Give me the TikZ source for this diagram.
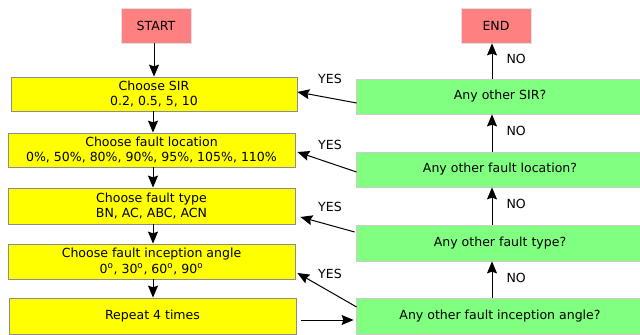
\documentclass[tikz,border=0pt]{standalone}
\usepackage{fontspec}
\setmainfont{DejaVu Sans}
\usetikzlibrary{calc,arrows.meta}
\definecolor{yel}{HTML}{FFFF00}
\definecolor{grn}{HTML}{80FF80}
\definecolor{rd}{HTML}{FF8080}
\tikzset{
  base/.style={inner sep=0pt, align=center, font=\fontsize{9.4}{11.4}\selectfont},
  yellowbox/.style={base, fill=yel, draw=black!45, line width=0.6pt},
  greenbox/.style={base, fill=grn, draw=black!20, line width=0.6pt, minimum width=288*0.75pt, minimum height=35*0.75pt},
  termbox/.style={base, fill=rd, draw=black!12, line width=0.6pt, minimum width=70*0.75pt, minimum height=35*0.75pt},
  arr/.style={line width=0.75pt, -{Stealth[length=9pt,width=7.5pt,inset=1.3pt]}},
  lbl/.style={font=\fontsize{9.4}{11.4}\selectfont, inner sep=0pt}
}
\begin{document}
\begin{tikzpicture}[x=0.75pt,y=-0.75pt]
\useasboundingbox (0,0) rectangle (640,335);
\clip (0,0) rectangle (640,335);
% terminals
\node[termbox] (start) at (156,25.5) {START};
\node[termbox] (end) at (496,25.5) {END};
% yellow column
\node[yellowbox, minimum width=286*0.75pt, minimum height=34*0.75pt] (sir) at (154,94) {Choose SIR\\0.2, 0.5, 5, 10};
\node[yellowbox, minimum width=287*0.75pt, minimum height=34*0.75pt] (loc) at (151.5,150) {Choose fault location\\0\%, 50\%, 80\%, 90\%, 95\%, 105\%, 110\%};
\node[yellowbox, minimum width=287*0.75pt, minimum height=36*0.75pt] (typ) at (151.5,206) {Choose fault type\\BN, AC, ABC, ACN};
\node[yellowbox, minimum width=287*0.75pt, minimum height=35*0.75pt] (ang) at (151.5,261.5) {Choose fault inception angle\\0$^{\mathrm{o}}$, 30$^{\mathrm{o}}$, 60$^{\mathrm{o}}$, 90$^{\mathrm{o}}$};
\node[yellowbox, minimum width=287*0.75pt, minimum height=36*0.75pt] (rep) at (152.5,316) {Repeat 4 times};
% green column
\node[greenbox] (gsir) at (500,96.5) {Any other SIR?};
\node[greenbox] (gloc) at (500,169.5) {Any other fault location?};
\node[greenbox, minimum height=36*0.75pt] (gtyp) at (500,243) {Any other fault type?};
\node[greenbox, minimum height=36*0.75pt] (gang) at (500,316) {Any other fault inception angle?};
% helper coordinates
\coordinate (a0) at ($(start.south)+(-2,0)$);
\coordinate (a1) at ($(sir.south)+(-1,0)$);
\coordinate (a2) at ($(loc.south)+(1.5,0)$);
\coordinate (a3) at ($(typ.south)+(1.5,0)$);
\coordinate (a4) at ($(ang.south)+(1.5,0)$);
\coordinate (b1) at ($(gang.north)+(-8,0)$);
\coordinate (b2) at ($(gtyp.north)+(-8,0)$);
\coordinate (b3) at ($(gloc.north)+(-8,0)$);
\coordinate (b4) at ($(gsir.north)+(-8,0)$);
% left arrows
\draw[arr] (a0) -- (a0 |- sir.north);
\draw[arr] (a1) -- (a1 |- loc.north);
\draw[arr] (a2) -- (a2 |- typ.north);
\draw[arr] (a3) -- (a3 |- ang.north);
\draw[arr] (a4) -- (a4 |- rep.north);
% right arrows (NO)
\draw[arr] (b1) -- (b1 |- gtyp.south) node[lbl, pos=0.55, right=10.5pt] (no1) {NO};
\draw[arr] (b2) -- (b2 |- gloc.south) node[lbl, pos=0.55, right=10.5pt] (no2) {NO};
\draw[arr] (b3) -- (b3 |- gsir.south) node[lbl, pos=0.55, right=10.5pt] (no3) {NO};
\draw[arr] (b4) -- (b4 |- end.south) node[lbl, pos=0.55, right=10.5pt] (no4) {NO};
% YES arrows
\draw[arr] ($(gsir.west)+(1,6.5)$) -- ($(sir.east)+(0,-2)$);
\draw[arr] ($(gloc.west)+(1,2.5)$) -- ($(loc.east)+(2,2)$);
\draw[arr] ($(gtyp.west)+(-1,-11)$) -- ($(typ.east)+(5,11)$);
\draw[arr] ($(gang.west)+(1,-9)$) -- ($(ang.east)+(2,11.5)$);
\node[lbl] (y1) at (330,79) {YES};
\node[lbl] (y2) at (330,145) {YES};
\node[lbl] (y3) at (330,207) {YES};
\node[lbl] (y4) at (330,274) {YES};
% repeat -> angle question
\draw[arr] ($(rep.east)+(4.5,4)$) -- ($(gang.west)+(-2,4)$);
\end{tikzpicture}
\end{document}
